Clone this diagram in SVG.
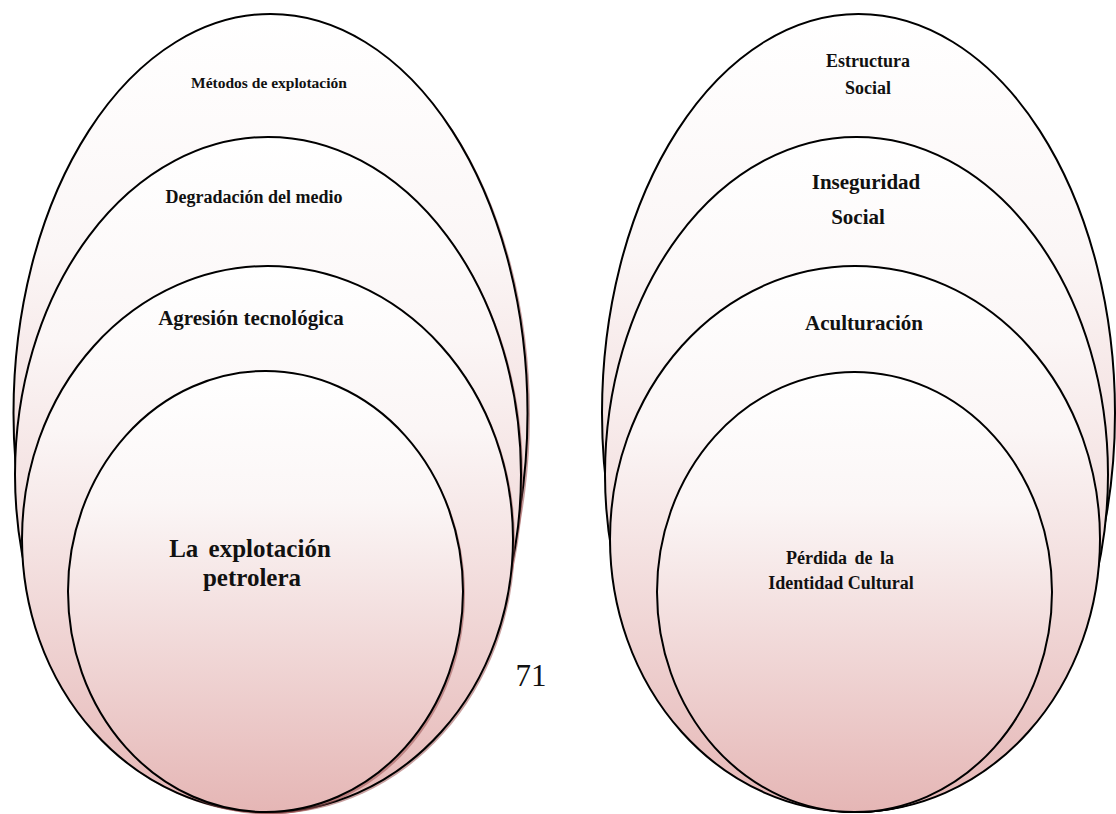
<svg xmlns="http://www.w3.org/2000/svg" width="1116" height="814" viewBox="0 0 1116 814">
<defs>
<linearGradient id="g" x1="0" y1="0" x2="0" y2="1">
<stop offset="0" stop-color="#ffffff"/>
<stop offset="0.3" stop-color="#fbf6f6"/>
<stop offset="1" stop-color="#e5b6b5"/>
</linearGradient>
</defs>
<style>
.e{fill:url(#g);stroke:#000;stroke-width:2}
.sh{fill:#9a5252;opacity:0.55}
.t{font-family:"Liberation Serif","Times New Roman",serif;font-weight:bold;fill:#111;text-anchor:middle}
.n{font-family:"Liberation Serif","Times New Roman",serif;fill:#111;text-anchor:middle}
</style>
<rect width="1116" height="814" fill="#fff"/>
<g id="left-1">
<ellipse class="sh" cx="273" cy="415" rx="257" ry="399"/>
<ellipse class="e" cx="270.5" cy="413" rx="257" ry="399"/>
<text class="t" x="269" y="88" font-size="15.5">Métodos de explotación</text>
</g>
<g id="left-2">
<ellipse class="sh" cx="270" cy="476" rx="253" ry="337"/>
<ellipse class="e" cx="268" cy="474.5" rx="253" ry="337.5"/>
<text class="t" x="254" y="203" font-size="18">Degradación del medio</text>
</g>
<g id="left-3">
<ellipse class="sh" cx="269.5" cy="541" rx="245.5" ry="273"/>
<ellipse class="e" cx="267.5" cy="539" rx="245.5" ry="273"/>
<text class="t" x="251" y="325" font-size="21">Agresión tecnológica</text>
</g>
<g id="left-4">
<ellipse class="sh" cx="267.5" cy="594" rx="197.5" ry="220.5"/>
<ellipse class="e" cx="265.5" cy="591.5" rx="197.5" ry="220.5"/>
<text class="t" x="250" y="557" font-size="25" word-spacing="4">La explotación</text>
<text class="t" x="252" y="586" font-size="25">petrolera</text>
</g>
<g id="page-number">
<text class="n" x="531" y="686" font-size="31">71</text>
</g>
<g id="right-1">
<ellipse class="e" cx="858.5" cy="413" rx="256.5" ry="399"/>
<text class="t" x="868" y="67" font-size="18">Estructura</text>
<text class="t" x="868" y="94" font-size="18">Social</text>
</g>
<g id="right-2">
<ellipse class="e" cx="856.5" cy="474.5" rx="251.5" ry="337.5"/>
<text class="t" x="866" y="189" font-size="21">Inseguridad</text>
<text class="t" x="858" y="224" font-size="21">Social</text>
</g>
<g id="right-3">
<ellipse class="e" cx="855" cy="539" rx="245" ry="273"/>
<text class="t" x="864" y="330" font-size="21">Aculturación</text>
</g>
<g id="right-4">
<ellipse class="e" cx="854.5" cy="592" rx="197.5" ry="220"/>
<text class="t" x="840" y="564" font-size="18" word-spacing="3">Pérdida de la</text>
<text class="t" x="841" y="589" font-size="18">Identidad Cultural</text>
</g>
<g id="connectors"/>
</svg>
